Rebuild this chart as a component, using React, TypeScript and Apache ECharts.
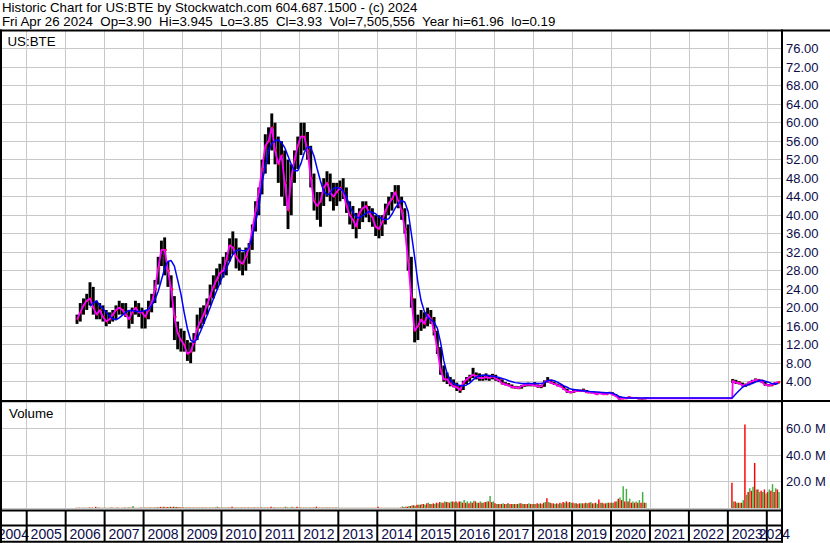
import React, { useEffect, useRef } from "react";
import * as echarts from "echarts";

// ---------- text ----------
const headerLine1 = "Historic Chart for US:BTE by Stockwatch.com 604.687.1500 - (c) 2024";
const headerLine2 =
  "Fri Apr 26 2024\u00a0 Op=3.90\u00a0 Hi=3.945\u00a0 Lo=3.85\u00a0 Cl=3.93\u00a0 Vol=7,505,556\u00a0 Year hi=61.96\u00a0 lo=0.19";
const symbolLabel = "US:BTE";
const volumeLabel = "Volume";

// ---------- axis ----------
const years = [2004, 2005, 2006, 2007, 2008, 2009, 2010, 2011, 2012, 2013, 2014, 2015, 2016, 2017, 2018, 2019, 2020, 2021, 2022, 2023, 2024];
const timeMin = 2004;
const timeMax = 2024.39;

// ---------- segment 1: monthly, Apr 2006 .. Nov 2020 ----------
const seg1Start = { year: 2006, month: 4 };
const seg1High = [
  18.5, 21, 22, 23, 25.5, 24.5, 21.5, 21, 20.5,
  19.5, 19, 19.5, 20.5, 21.5, 21, 21, 19.5, 20, 21.5, 21, 20,
  19.5, 21.5, 23, 26, 31, 34.5, 35.2, 30, 27, 22.5, 17, 15.5,
  15, 13, 12.5, 14.5, 18.5, 20, 20.5, 22, 25, 27, 28.5, 29.5,
  31, 32, 35, 36.5, 35, 33, 32, 33, 34, 38, 43, 46,
  52, 57.5, 59, 62, 60, 57, 56, 54, 52, 51, 54, 57,
  60, 60, 58, 55, 49, 45, 45, 48, 49.5, 49, 47, 47,
  47.5, 48, 46, 43, 42, 40.5, 41.5, 43, 43, 42, 41.5, 40,
  40, 40, 42.5, 44, 45, 46.5, 46.5, 44, 41.5, 38, 31, 22,
  18.5, 19.5, 19, 20, 19.5, 18, 15, 11.5, 7.5, 6, 5, 4.5,
  3.8, 3.2, 4.2, 5, 5.5, 7, 6, 5.8, 5.5, 5.8, 5.5, 5.7,
  5.5, 4.8, 4.5, 3.9, 3.7, 3.4, 3.1, 3.0, 3.3, 3.6, 3.8, 3.7,
  3.9, 3.4, 3.3, 4.3, 5.0, 4.4, 4.0, 3.6, 3.4, 3.1, 2.5, 2.0,
  2.2, 2.3, 2.3, 2.5, 2.2, 2.0, 1.9, 1.7, 1.8, 1.6, 1.5, 1.8,
  1.7, 1.3, 0.9, 0.6, 0.6, 0.8, 0.6, 0.6, 0.5, 0.45, 0.5,
];
const seg1Low = [
  16.5, 17, 18.5, 19.5, 20.5, 18.5, 17.5, 17.5, 17,
  16, 16.5, 17, 17.5, 18.5, 18.5, 18, 15.5, 16.5, 18.5, 18, 15.5,
  15.5, 17.5, 19, 21, 25, 29, 27, 24.5, 20, 13, 11, 10.5,
  10.5, 8.5, 8, 10.5, 13, 15.5, 16.5, 18.5, 20.5, 22, 24, 25,
  26.5, 27, 30, 31.5, 28.5, 28, 27, 28, 29.5, 32.5, 36.5, 40,
  44.5, 49, 51, 54, 51, 47, 44, 42, 37, 40, 47, 50,
  53, 54, 52, 46, 41, 39, 37.5, 42, 44, 43, 41, 42,
  43, 43.5, 40.5, 38, 37, 35, 37, 38.5, 39.5, 38.5, 37.5, 35.5,
  35, 35.5, 38, 40, 41, 42.5, 41.5, 39, 36, 28, 20, 12.5,
  13, 15, 15.5, 16, 16.5, 14, 10, 5.5, 4, 3.5, 3, 2.8,
  2, 1.6, 2.2, 3.5, 4, 4.8, 4.5, 4.2, 4.2, 4.3, 4.2, 4.5,
  4.2, 3.9, 3.4, 3.2, 3.0, 2.6, 2.5, 2.4, 2.5, 2.9, 3.0, 3.0,
  3.0, 2.7, 2.6, 2.9, 3.8, 3.6, 3.3, 3.0, 2.8, 2.2, 1.6, 1.5,
  1.6, 1.8, 1.8, 1.9, 1.6, 1.5, 1.5, 1.2, 1.3, 1.2, 1.2, 1.3,
  1.1, 0.8, 0.15, 0.2, 0.3, 0.4, 0.4, 0.45, 0.35, 0.3, 0.3,
];
const seg1Close = [
  17.5, 19, 20.5, 21.5, 22, 20, 18.5, 19.5, 18,
  17, 17.5, 18.5, 19.5, 20, 19.5, 18.5, 17.5, 19, 20, 19, 19,
  18, 19.5, 21, 24, 28.5, 32.5, 32.5, 28, 24, 18, 14.5, 13,
  12, 10, 10.5, 12.5, 15.5, 17, 18.5, 20.5, 22.5, 24.5, 26, 27.5,
  28, 30.5, 33.5, 33, 31, 30, 29.5, 31, 33, 37, 41, 45,
  50, 55, 56, 59, 54, 51, 53, 47, 41, 48, 52, 55,
  57, 57, 54, 48, 43, 42, 43, 46, 47, 45, 44, 45,
  46, 45, 42, 40, 39, 37.5, 40.5, 41.5, 42, 40.5, 39.5, 37.5,
  37, 38.5, 41, 42.5, 43.5, 45, 43, 41, 37, 30, 22, 15,
  16, 17.5, 16.5, 18.5, 17.5, 15, 11, 6.5, 4.5, 4.5, 3.5, 3,
  2.8, 2.2, 3.8, 4.5, 5, 5.5, 5.2, 4.8, 4.8, 5, 4.8, 5.2,
  4.6, 4.3, 3.6, 3.4, 3.2, 2.8, 2.8, 2.6, 3.1, 3.3, 3.4, 3.3,
  3.2, 3.0, 3.0, 4.0, 4.2, 3.8, 3.5, 3.2, 3.0, 2.4, 1.9, 1.7,
  1.9, 2.0, 2.0, 2.1, 1.7, 1.7, 1.6, 1.3, 1.6, 1.3, 1.3, 1.6,
  1.2, 0.9, 0.3, 0.4, 0.4, 0.6, 0.5, 0.5, 0.4, 0.35, 0.45,
];
const seg1Slow = [
  null, null, null, null, 20.3, 21, 21.5, 20.5, 19.8,
  19, 18.2, 17.6, 17.4, 17.8, 18.4, 19, 19.4, 19.4, 19.2, 19.2, 19.2,
  19.4, 19.6, 20.5, 21.8, 23.5, 26, 28.5, 30, 30.2, 29, 26, 23,
  19, 15.5, 13, 12.5, 13.3, 14.8, 16.5, 18.2, 20, 21.9, 23.6, 25.3,
  27, 28.5, 30, 31.5, 32.3, 32.5, 32.3, 32.3, 33, 35.5, 38.5, 41.5,
  47, 50.5, 53.8, 55.5, 56.1, 56.3, 55.7, 54.6, 52.8, 51, 49.6, 49.6,
  51.2, 53.5, 54.8, 54.6, 52.8, 50, 47.4, 45.2, 44.4, 44.7, 45.8, 46,
  45.8, 45.2, 44, 42, 40.6, 39.6, 39.4, 39.9, 40.4, 40.8, 40.6, 40.3,
  39.6, 39.2, 39, 39.2, 40.2, 41.5, 42.5, 43.2, 42.8, 40.8, 36, 31,
  25.5, 21.5, 19.2, 18, 17.4, 16.8, 15.6, 12.5, 8.5, 5.8, 4.3, 3.6,
  3.3, 3.2, 3.1, 3.3, 3.7, 4.4, 5, 5.3, 5.4, 5.4, 5.3, 5.2,
  5.1, 4.9, 4.7, 4.5, 4.2, 4, 3.8, 3.7, 3.6, 3.6, 3.6, 3.6,
  3.6, 3.6, 3.6, 3.8, 4.2, 4.4, 4.2, 3.9, 3.5, 3.1, 2.8, 2.4,
  2.3, 2.2, 2.1, 2.0, 2.0, 1.9, 1.85, 1.8, 1.7, 1.65, 1.6, 1.6,
  1.5, 1.2, 0.8, 0.65, 0.55, 0.5, 0.5, 0.5, 0.5, 0.5, 0.5,
];
const seg1VolDown = [
  0.2, 0.3, 0.2, 0.2, 0.4, 0.3, 0.9, 0.3, 0.2,
  0.2, 0.2, 0.3, 0.2, 0.3, 0.2, 0.3, 0.4, 0.3, 0.2, 0.2, 0.3,
  0.3, 0.3, 0.3, 0.4, 0.5, 0.9, 1.0, 0.8, 0.9, 1.0, 0.8, 0.6,
  0.4, 0.4, 0.3, 0.3, 0.3, 0.3, 0.3, 0.3, 0.3, 0.3, 0.3, 0.3,
  0.3, 0.3, 0.3, 1.0, 0.3, 0.3, 0.3, 0.3, 0.3, 0.3, 0.3, 0.3,
  0.3, 0.3, 0.3, 1.0, 0.3, 0.3, 0.3, 0.3, 0.3, 0.3, 0.3, 1.0,
  0.3, 0.3, 0.3, 0.3, 0.3, 1.0, 0.3, 0.3, 0.3, 0.3, 0.3, 0.3,
  0.2, 0.2, 0.2, 0.2, 0.2, 0.2, 0.2, 0.2, 0.2, 0.2, 0.2, 0.2,
  1.0, 0.2, 0.2, 0.2, 0.2, 0.2, 0.2, 0.3, 0.5, 1.0, 1.5, 2.0,
  2.5, 2.5, 3, 3.5, 3, 3.5, 4, 4.5, 4, 4.5, 4, 5,
  5, 5, 4, 4, 3.5, 4, 5, 4, 4, 4.5, 5, 4.5,
  3.5, 3, 3, 3, 3.5, 3, 3, 3, 3.5, 3, 3, 3,
  3, 3.5, 3.5, 4, 7.3, 4, 3.5, 3.5, 4, 4.5, 5, 4.5,
  4, 3.5, 3.5, 3.5, 4, 4, 3.5, 4, 6.5, 4, 3.5, 4,
  4, 5, 7, 6, 5, 5, 4, 4, 4, 4, 4,
];
const seg1VolUp = [
  0.2, 0.2, 0.3, 0.3, 0.3, 0.2, 0.3, 0.2, 0.2,
  0.2, 0.3, 0.2, 0.3, 0.2, 0.3, 0.2, 0.3, 1.5, 0.2, 0.3, 0.2,
  0.3, 0.3, 0.3, 0.4, 0.5, 0.6, 0.5, 0.6, 0.7, 0.8, 0.6, 0.4,
  0.3, 0.3, 0.3, 0.3, 0.3, 0.3, 0.3, 0.3, 0.3, 0.3, 1.0, 0.3,
  0.3, 0.3, 0.3, 0.3, 0.3, 0.3, 0.3, 0.3, 0.3, 0.3, 0.3, 0.3,
  0.3, 0.3, 0.3, 0.3, 0.3, 0.3, 0.3, 1.0, 0.3, 1.0, 0.3, 0.3,
  0.3, 0.3, 0.3, 0.3, 0.3, 0.3, 0.3, 0.3, 0.3, 0.3, 0.3, 0.3,
  0.2, 0.2, 0.2, 0.2, 0.2, 0.2, 0.2, 0.2, 0.2, 0.2, 0.2, 0.2,
  0.2, 0.2, 0.2, 0.2, 0.2, 0.2, 0.2, 1.2, 1.0, 1.5, 2.0, 1.5,
  2.5, 3, 2.5, 4, 3, 3, 3.5, 4, 5, 4.5, 5, 4.5,
  4, 5, 6, 5, 5, 5.5, 4, 5, 4, 5, 9, 5,
  3, 3, 3.5, 3, 3, 3, 3, 3.5, 3, 3, 3.5, 3,
  3, 3, 3, 4.5, 4.5, 3.5, 3, 3, 3.5, 4, 4, 4,
  3.5, 3, 3.5, 3.5, 3.5, 4.5, 3.5, 3, 4, 3.5, 4, 4,
  4, 5, 8, 16.5, 14.5, 7, 5, 5, 6, 12, 4,
];

// ---------- gap (no trading) levels of the two averages ----------
const gapFastLevel = 0.4;
const gapSlowLevel = 0.5;

// ---------- segment 2: monthly, Feb 2023 .. Apr 2024 ----------
const seg2Start = { year: 2023, month: 2 };
const seg2High = [4.6, 4.4, 4.1, 3.8, 3.6, 4.0, 4.4, 4.7, 4.6, 4.4, 4.0, 3.5, 3.5, 3.9, 4.0];
const seg2Low = [3.7, 3.5, 3.4, 3.0, 2.9, 3.2, 3.7, 4.0, 3.9, 3.7, 3.1, 3.0, 3.0, 3.3, 3.6];
const seg2Close = [4.2, 3.8, 3.7, 3.2, 3.3, 3.8, 4.1, 4.4, 4.3, 3.9, 3.3, 3.2, 3.3, 3.7, 3.9];
const seg2Slow = [0.6, 1.4, 2.1, 2.8, 3.2, 3.4, 3.6, 3.9, 4.2, 4.3, 4.1, 3.9, 3.6, 3.5, 3.6];
const seg2VolDown = [19, 5, 4, 4, 63, 12, 13, 34, 14, 13, 14, 12, 13, 12, 14];
const seg2VolUp = [5, 4, 4, 6, 10, 15, 16, 14, 12, 12, 11, 14, 18, 15, 12];

// ---------- helpers ----------
const monthTime = (start: { year: number; month: number }, i: number) =>
  start.year + (start.month - 1 + i + 0.5) / 12;

const FONT = '"Liberation Sans", Arial, sans-serif';
const LABEL_COLOR = "#0c0c4a";

function buildOption() {
  const bars: number[][] = [];
  const fast: number[][] = [];
  const slow: number[][] = [];
  const vol: number[][] = [];
  seg1High.forEach((h, i) => {
    const t = monthTime(seg1Start, i);
    bars.push([t, h, seg1Low[i], seg1Close[i]]);
    fast.push([t, seg1Close[i]]);
    if (seg1Slow[i] != null) slow.push([t, seg1Slow[i] as number]);
    vol.push([t, seg1VolDown[i], seg1VolUp[i]]);
  });
  const gapEnd = seg2Start.year + (seg2Start.month - 1 + 0.35) / 12;
  fast.push([gapEnd, gapFastLevel]);
  slow.push([monthTime(seg1Start, seg1High.length - 1) + 0.1, gapSlowLevel]);
  slow.push([gapEnd, gapSlowLevel]);
  seg2High.forEach((h, i) => {
    const t = monthTime(seg2Start, i);
    bars.push([t, h, seg2Low[i], seg2Close[i]]);
    fast.push([t, seg2Close[i]]);
    slow.push([t, seg2Slow[i]]);
    vol.push([t, seg2VolDown[i], seg2VolUp[i]]);
  });

  const gridCommon = { left: -12.25, right: 48, outerBoundsMode: "none", containLabel: false } as any;
  const xAxis = (gridIndex: number, split: boolean) => ({
    type: "value",
    gridIndex,
    min: timeMin,
    max: timeMax,
    interval: 1,
    axisLine: { show: false },
    axisTick: { show: false },
    axisLabel: { show: false },
    splitLine: { show: split, lineStyle: { color: "#c8c8c8", width: 1 } },
  });

  const borders = [
    { x: 0, y: 29.5, w: 830, h: 2 },
    { x: 0, y: 400, w: 830, h: 2 },
    { x: 0, y: 509.5, w: 783, h: 2 },
    { x: 0, y: 524.5, w: 783, h: 2 },
    { x: 0, y: 540.7, w: 783, h: 2 },
    { x: 0, y: 29.5, w: 2, h: 514 },
    { x: 781, y: 29.5, w: 2, h: 513 },
  ];

  return {
    animation: false,
    backgroundColor: "#ffffff",
    grid: [
      { ...gridCommon, top: 30.2, height: 370 },
      { ...gridCommon, top: 402, height: 106 },
      { ...gridCommon, top: 511, height: 30 },
    ],
    xAxis: [xAxis(0, true), xAxis(1, true), xAxis(2, false)],
    yAxis: [
      {
        type: "value",
        gridIndex: 0,
        position: "right",
        min: 0,
        max: 80,
        interval: 4,
        axisLine: { show: false },
        axisTick: { show: false },
        splitLine: { lineStyle: { color: "#c8c8c8", width: 1 } },
        axisLabel: {
          margin: 4,
          color: LABEL_COLOR,
          fontFamily: FONT,
          fontSize: 13,
          formatter: (v: number) => (v === 0 || v === 80 ? "" : v.toFixed(2)),
        },
      },
      {
        type: "value",
        gridIndex: 1,
        position: "right",
        min: 0,
        max: 80,
        interval: 20,
        axisLine: { show: false },
        axisTick: { show: false },
        splitLine: { lineStyle: { color: "#c8c8c8", width: 1 } },
        axisLabel: {
          margin: 4,
          color: LABEL_COLOR,
          fontFamily: FONT,
          fontSize: 13,
          formatter: (v: number) => (v === 0 || v === 80 ? "" : v.toFixed(1) + " M"),
        },
      },
      { type: "value", gridIndex: 2, min: 0, max: 1, show: false },
    ],
    series: [
      {
        type: "custom",
        name: "price",
        xAxisIndex: 0,
        yAxisIndex: 0,
        encode: { x: 0, y: [1, 2] },
        data: bars,
        renderItem: (_p: any, api: any) => {
          const t = api.value(0);
          const hi = api.coord([t, api.value(1)]);
          const lo = api.coord([t, api.value(2)]);
          const cl = api.coord([t, api.value(3)]);
          const mw = api.size([1 / 12, 0])[0];
          const w = mw * 0.9;
          return {
            type: "group",
            children: [
              {
                type: "rect",
                shape: { x: hi[0] - w / 2, y: hi[1], width: w, height: Math.max(1.5, lo[1] - hi[1]) },
                style: { fill: "#000000" },
              },
              {
                type: "rect",
                shape: { x: cl[0], y: cl[1] - 1, width: w / 2 + 0.6, height: 2 },
                style: { fill: "#ff0000" },
              },
            ],
          };
        },
        z: 2,
      },
      {
        type: "line",
        name: "fast",
        xAxisIndex: 0,
        yAxisIndex: 0,
        data: fast,
        symbol: "none",
        lineStyle: { color: "#ff00ff", width: 1.8 },
        z: 3,
      },
      {
        type: "line",
        name: "slow",
        xAxisIndex: 0,
        yAxisIndex: 0,
        data: slow,
        symbol: "none",
        lineStyle: { color: "#0000ff", width: 1.5 },
        z: 4,
      },
      {
        type: "custom",
        name: "volume",
        xAxisIndex: 1,
        yAxisIndex: 1,
        encode: { x: 0, y: [1, 2] },
        data: vol,
        renderItem: (_p: any, api: any) => {
          const t = api.value(0);
          const mw = api.size([1 / 12, 0])[0];
          const base = api.coord([t, 0]);
          const dn = api.coord([t, api.value(1)]);
          const up = api.coord([t, api.value(2)]);
          const bw = mw * 0.45;
          return {
            type: "group",
            children: [
              {
                type: "rect",
                shape: { x: base[0] - mw / 2 + 0.1, y: dn[1], width: bw, height: base[1] - dn[1] },
                style: { fill: "#ff0000" },
              },
              {
                type: "rect",
                shape: { x: base[0] + 0.1, y: up[1], width: bw, height: base[1] - up[1] },
                style: { fill: "#3fb03f" },
              },
            ],
          };
        },
      },
      {
        type: "custom",
        name: "years",
        xAxisIndex: 2,
        yAxisIndex: 2,
        encode: { x: 0 },
        data: years.map((y) => [y]),
        renderItem: (params: any, api: any) => {
          const yr = api.value(0);
          const cs = params.coordSys;
          const p0 = api.coord([yr, 1]);
          const p1 = api.coord([Math.min(yr + 1, timeMax), 0]);
          const left = Math.max(p0[0], 0);
          const right = Math.min(p1[0], cs.x + cs.width);
          return {
            type: "group",
            children: [
              {
                type: "rect",
                shape: { x: p0[0] - 1, y: p0[1] - 1, width: 2, height: p1[1] - p0[1] + 2 },
                style: { fill: "#000000" },
              },
              {
                type: "text",
                x: (left + right) / 2,
                y: 534,
                style: {
                  text: String(yr),
                  textAlign: "center",
                  textVerticalAlign: "middle",
                  fill: LABEL_COLOR,
                  font: `14px ${FONT}`,
                },
              },
            ],
          };
        },
      },
    ],
    graphic: [
      ...borders.map((b) => ({
        type: "rect",
        z: 100,
        shape: { x: b.x, y: b.y, width: b.w, height: b.h },
        style: { fill: "#000000" },
      })),
      {
        type: "text",
        z: 100,
        x: 2,
        y: 7,
        style: { text: headerLine1, fill: "#000000", font: `13.3px ${FONT}`, textVerticalAlign: "middle" },
      },
      {
        type: "text",
        z: 100,
        x: 2,
        y: 21,
        style: { text: headerLine2, fill: "#000000", font: `13.3px ${FONT}`, textVerticalAlign: "middle" },
      },
      {
        type: "text",
        z: 100,
        x: 7.5,
        y: 41,
        style: { text: symbolLabel, fill: "#000000", font: `13.3px ${FONT}`, textVerticalAlign: "middle" },
      },
      {
        type: "text",
        z: 100,
        x: 9,
        y: 413,
        style: { text: volumeLabel, fill: "#000000", font: `13.3px ${FONT}`, textVerticalAlign: "middle" },
      },
    ],
  };
}

export default function App() {
  const ref = useRef<HTMLDivElement>(null);
  useEffect(() => {
    if (!ref.current) return;
    const chart = echarts.init(ref.current, undefined, { renderer: "svg" });
    chart.setOption(buildOption() as any);
    return () => chart.dispose();
  }, []);
  return (
    <div
      ref={ref}
      style={{ position: "fixed", left: 0, top: 0, width: 830, height: 543, background: "#ffffff" }}
    />
  );
}
